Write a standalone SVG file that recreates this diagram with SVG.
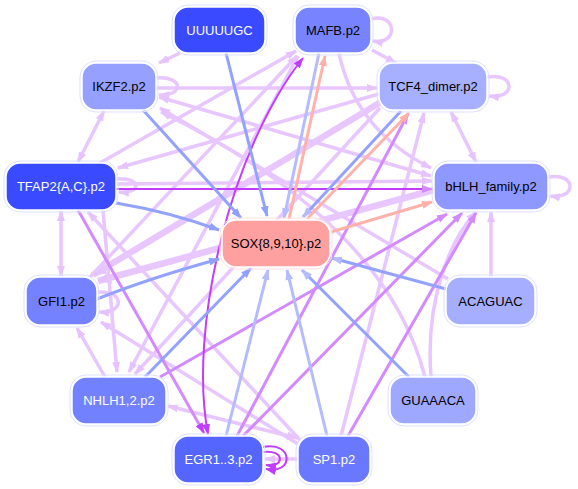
<svg xmlns="http://www.w3.org/2000/svg" width="578" height="489" viewBox="0 0 578 489">
<style>
.e{fill:none;stroke-width:3.5}
.lav{stroke:#e8c6ff}
.lavt{stroke:#e8c6ff;stroke-width:6.5}
.pur{stroke:#d48aff;stroke-width:3}
.str{stroke:#c23cff;stroke-width:2}
.blu{stroke:#94a2ff;stroke-width:3}
.lbl{stroke:#b4bcff;stroke-width:3}
.sal{stroke:#ffb2aa;stroke-width:3}
.n rect.o{fill:none;stroke:#dde1ff;stroke-width:1}
.n rect.i{stroke:#ffffff;stroke-width:1.5}
.n text{font-family:"Liberation Sans",Arial,sans-serif;font-size:13px;text-anchor:middle;dominant-baseline:central}
.w{fill:#ffffff}
.k{fill:#000000}
</style>
<defs>
<marker id="a-lav" markerUnits="userSpaceOnUse" markerWidth="11" markerHeight="8" refX="10" refY="4" orient="auto-start-reverse"><path d="M0,0 L11,4 L0,8 z" fill="#e6c2ff"/></marker>
<marker id="a-lavt" markerUnits="userSpaceOnUse" markerWidth="14" markerHeight="12" refX="13" refY="6" orient="auto-start-reverse"><path d="M0,0 L14,6 L0,12 z" fill="#e6c2ff"/></marker>
<marker id="a-pur" markerUnits="userSpaceOnUse" markerWidth="11" markerHeight="8" refX="10" refY="4" orient="auto-start-reverse"><path d="M0,0 L11,4 L0,8 z" fill="#d48aff"/></marker>
<marker id="a-str" markerUnits="userSpaceOnUse" markerWidth="11" markerHeight="8" refX="10" refY="4" orient="auto-start-reverse"><path d="M0,0 L11,4 L0,8 z" fill="#c23cff"/></marker>
<marker id="a-blu" markerUnits="userSpaceOnUse" markerWidth="11" markerHeight="8" refX="10" refY="4" orient="auto-start-reverse"><path d="M0,0 L11,4 L0,8 z" fill="#90a0ff"/></marker>
<marker id="a-lbl" markerUnits="userSpaceOnUse" markerWidth="11" markerHeight="8" refX="10" refY="4" orient="auto-start-reverse"><path d="M0,0 L11,4 L0,8 z" fill="#b4bcff"/></marker>
<marker id="a-sal" markerUnits="userSpaceOnUse" markerWidth="11" markerHeight="8" refX="10" refY="4" orient="auto-start-reverse"><path d="M0,0 L11,4 L0,8 z" fill="#ffb0a8"/></marker>
</defs>
<rect width="578" height="489" fill="#ffffff"/>
<g id="connectors">
<!-- lavender -->
<path class="e lav" d="M180,53 L159,63" marker-end="url(#a-lav)"/>
<path class="e lav" d="M372,50 L396,63" marker-end="url(#a-lav)"/>
<path class="e lav" d="M156,88 L377,88" marker-end="url(#a-lav)"/>
<path class="e lav" d="M104,111 L78,162" marker-start="url(#a-lav)" marker-end="url(#a-lav)"/>
<path class="e lav" d="M61,211 L61,276" marker-start="url(#a-lav)" marker-end="url(#a-lav)"/>
<path class="e lav" d="M451,112 L476,162" marker-start="url(#a-lav)" marker-end="url(#a-lav)"/>
<path class="e lav" d="M491,277 L491,212" marker-end="url(#a-lav)"/>
<path class="e lav" d="M339,53 Q355,130 431,168" marker-end="url(#a-lav)"/>
<path class="e lav" d="M159,97 L431,176" marker-start="url(#a-lav)" marker-end="url(#a-lav)"/>
<path class="e lav" d="M117,184 L432,181" marker-end="url(#a-lav)"/>
<path class="e lav" d="M448,279 L160,108" marker-end="url(#a-lav)"/>
<path class="e lav" d="M425,377 C400,280 320,190 161,112" marker-end="url(#a-lav)"/>
<path class="e lav" d="M431,377 C425,300 450,240 476,212" marker-end="url(#a-lav)"/>
<path class="e lav" d="M379,94 L118,168" marker-end="url(#a-lav)"/>
<path class="e lavt" d="M381,102 L93,275" marker-end="url(#a-lavt)"/>
<path class="e lavt" d="M434,190 L98,281" marker-end="url(#a-lavt)"/>
<path class="e lav" d="M90,277 L297,56" marker-end="url(#a-lav)"/>
<path class="e lav" d="M100,163 L296,51" marker-end="url(#a-lav)"/>
<path class="e lav" d="M103,210 L117,372" marker-end="url(#a-lav)"/>
<path class="e lav" d="M298,56 L129,372" marker-end="url(#a-lav)"/>
<path class="e lav" d="M380,108 L135,374" marker-end="url(#a-lav)"/>
<path class="e lav" d="M105,377 L77,328" marker-end="url(#a-lav)"/>
<path class="e lav" d="M300,440 L88,212" marker-end="url(#a-lav)"/>
<path class="e lav" d="M298,444 L101,322" marker-end="url(#a-lav)"/>
<path class="e lav" d="M168,406 L297,438" stroke-width="4.5" marker-start="url(#a-lav)" marker-end="url(#a-lav)"/>
<path class="e lav" d="M298,459 L265,459" marker-end="url(#a-lav)"/>
<path class="e lav" d="M341,436 L424,113" marker-end="url(#a-lav)"/>
<!-- self loops -->
<path class="e lav" d="M371,19 C398,12 398,46 373,41" marker-end="url(#a-lav)"/>
<path class="e lav" d="M487,77 C516,72 516,100 489,96" marker-end="url(#a-lav)"/>
<path class="e lav" d="M548,177 C577,172 577,200 550,196" marker-end="url(#a-lav)"/>
<path class="e lav" d="M156,78 C184,76 184,96 159,95" marker-end="url(#a-lav)"/>
<path class="e lav" d="M116,179 C142,177 142,194 119,192" marker-end="url(#a-lav)"/>
<path class="e lav" d="M97,292 C125,290 125,314 99,312" marker-end="url(#a-lav)"/>
<path class="e str" d="M263,447 C294,441 294,475 266,469" stroke-width="3" marker-end="url(#a-str)"/>
<path class="e str" d="M263,452 C285,449 285,468 266,465" stroke-width="2.5" marker-end="url(#a-str)"/>
<!-- purple -->
<path class="e pur" d="M160,377 L447,214" marker-end="url(#a-pur)"/>
<path class="e pur" d="M243,436 L462,213" marker-end="url(#a-pur)"/>
<path class="e pur" d="M348,436 L476,213" stroke="#d080ff" marker-end="url(#a-pur)"/>
<path class="e pur" d="M237,436 L408,114" marker-end="url(#a-pur)"/>
<path class="e pur" d="M78,210 L204,433" stroke="#c870ff" stroke-width="2.5" marker-end="url(#a-str)"/>
<path class="e str" d="M116,189 L432,189" stroke="#c86cff" stroke-width="2" marker-end="url(#a-pur)"/>
<path class="e str" d="M303,58 C230,150 188,330 208,434" marker-start="url(#a-str)" marker-end="url(#a-str)"/>
<!-- blue -->
<path class="e blu" d="M226,53 L267,216" marker-end="url(#a-blu)"/>
<path class="e blu" d="M143,110 L241,218" marker-end="url(#a-blu)"/>
<path class="e blu" d="M116,203 Q170,212 219,230" marker-end="url(#a-blu)"/>
<path class="e blu" d="M97,299 Q150,278 219,259" marker-end="url(#a-blu)"/>
<path class="e blu" d="M145,377 L251,268" marker-end="url(#a-blu)"/>
<path class="e lbl" d="M226,436 L268,270" marker-end="url(#a-lbl)"/>
<path class="e lbl" d="M327,436 L287,270" marker-end="url(#a-lbl)"/>
<path class="e blu" d="M409,377 L302,270" stroke="#a4aeff" marker-end="url(#a-lbl)"/>
<path class="e blu" d="M446,289 L332,258" stroke="#a4aeff" marker-end="url(#a-lbl)"/>
<path class="e lbl" d="M319,53 L284,218" marker-end="url(#a-lbl)"/>
<path class="e blu" d="M401,111 L303,217" stroke="#a8b4ff" marker-end="url(#a-lbl)"/>
<!-- salmon -->
<path class="e sal" d="M289,219 L325,56" marker-end="url(#a-sal)"/>
<path class="e sal" d="M307,219 L409,113" marker-end="url(#a-sal)"/>
<path class="e sal" d="M331,232 L432,202" marker-end="url(#a-sal)"/>
</g>
<g id="n-uuuuugc" class="n"><rect class="o" x="172" y="5" width="95" height="50" rx="16"/><rect class="i" x="174" y="7" width="91" height="46" rx="14" fill="#3a4bff"/><text class="w" x="219.5" y="30">UUUUUGC</text></g>
<g id="n-mafb" class="n"><rect class="o" x="293" y="5" width="80" height="50" rx="16"/><rect class="i" x="295" y="7" width="76" height="46" rx="14" fill="#7884ff"/><text class="k" x="333" y="30">MAFB.p2</text></g>
<g id="n-ikzf2" class="n"><rect class="o" x="80" y="61" width="78" height="51" rx="16"/><rect class="i" x="82" y="63" width="74" height="47" rx="14" fill="#96a0ff"/><text class="k" x="119" y="86.5">IKZF2.p2</text></g>
<g id="n-tcf4" class="n"><rect class="o" x="377" y="61" width="112" height="51" rx="16"/><rect class="i" x="379" y="63" width="108" height="47" rx="14" fill="#a6b0ff"/><text class="k" x="433" y="86.5">TCF4_dimer.p2</text></g>
<g id="n-tfap2" class="n"><rect class="o" x="4" y="161" width="114" height="51" rx="16"/><rect class="i" x="6" y="163" width="110" height="47" rx="14" fill="#3a4bff"/><text class="w" x="61" y="186.5">TFAP2{A,C}.p2</text></g>
<g id="n-bhlh" class="n"><rect class="o" x="432" y="161" width="118" height="51" rx="16"/><rect class="i" x="434" y="163" width="114" height="47" rx="14" fill="#8e98ff"/><text class="k" x="491" y="186.5">bHLH_family.p2</text></g>
<g id="n-sox" class="n"><rect class="o" x="220" y="218" width="112" height="51" rx="16" style="stroke:#ffe0e0"/><rect class="i" x="222" y="220" width="108" height="47" rx="14" fill="#ffa0a0"/><text class="k" x="276" y="243.5">SOX{8,9,10}.p2</text></g>
<g id="n-gfi1" class="n"><rect class="o" x="24" y="275" width="75" height="52" rx="16"/><rect class="i" x="26" y="277" width="71" height="48" rx="14" fill="#7482ff"/><text class="k" x="61.5" y="301">GFI1.p2</text></g>
<g id="n-acaguac" class="n"><rect class="o" x="444" y="275" width="93" height="52" rx="16"/><rect class="i" x="446" y="277" width="89" height="48" rx="14" fill="#a6aeff"/><text class="k" x="490.5" y="301">ACAGUAC</text></g>
<g id="n-nhlh" class="n"><rect class="o" x="70" y="375" width="98" height="51" rx="16"/><rect class="i" x="72" y="377" width="94" height="47" rx="14" fill="#7282ff"/><text class="w" x="119" y="400.5">NHLH1,2.p2</text></g>
<g id="n-guaaaca" class="n"><rect class="o" x="388" y="375" width="90" height="51" rx="16"/><rect class="i" x="390" y="377" width="86" height="47" rx="14" fill="#9ea8ff"/><text class="k" x="433" y="400.5">GUAAACA</text></g>
<g id="n-egr" class="n"><rect class="o" x="172" y="434" width="93" height="51" rx="16"/><rect class="i" x="174" y="436" width="89" height="47" rx="14" fill="#5566ff"/><text class="w" x="218.5" y="459.5">EGR1..3.p2</text></g>
<g id="n-sp1" class="n"><rect class="o" x="296" y="434" width="76" height="51" rx="16"/><rect class="i" x="298" y="436" width="72" height="47" rx="14" fill="#6a78ff"/><text class="w" x="334" y="459.5">SP1.p2</text></g>
</svg>
